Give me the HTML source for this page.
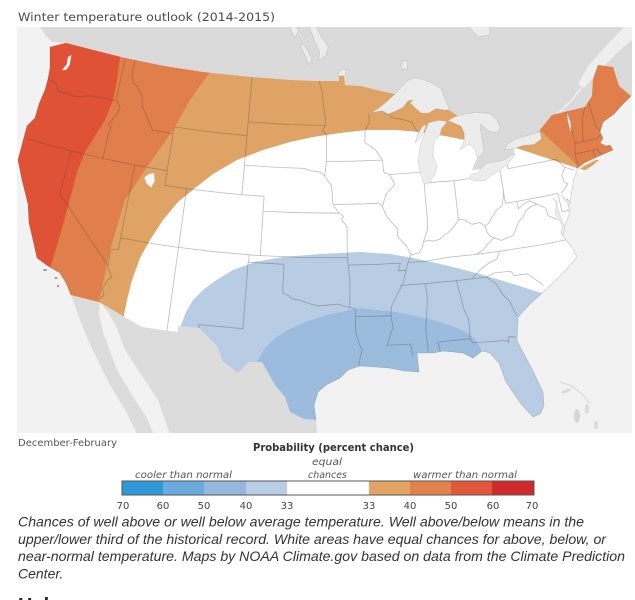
<!DOCTYPE html>
<html><head><meta charset="utf-8"><style>
html,body{margin:0;padding:0;background:#fff;}
svg{display:block;}
</style></head><body>
<svg width="635" height="600" viewBox="0 0 635 600" xmlns="http://www.w3.org/2000/svg">
<defs>
<clipPath id="map"><rect x="17" y="27" width="615" height="406"/></clipPath>
<clipPath id="us"><path d="M50,47 L66,43 L97,51 L125,58 L164,66 L203,72 L252,77 L292,80 L319,81 L339,81 L339,75 L344,76 L345,85 L361,86 L381,91 L395,94 L422,95 L449,110 L471,125 L477,158 L472,170 L494,168 L515,154 L514,149 L528,141 L539,131 L552,115 L585,107 L592,96 L593,79 L598,65 L613,67 L619,86 L631,96 L621,106 L614,114 L603,122 L600,132 L603,138 L600,143 L606,146 L610,145 L613,150 L606,153 L599,156 L584,163 L578,168 L574,178 L572,190 L570,203 L567,198 L568,205 L570,212 L565,226 L562,231 L563,236 L566,240 L572,247 L577,257 L567,269 L552,284 L530,304 L518,317 L517,341 L532,369 L543,392 L544,406 L540,414 L533,417 L521,404 L506,382 L499,363 L490,353 L482,351 L473,358 L463,353 L443,351 L433,353 L417,353 L419,372 L405,371 L389,368 L376,367 L360,366 L348,370 L340,378 L326,385 L318,392 L314,405 L316,420 L304,419 L290,412 L285,397 L275,385 L262,362 L249,362 L238,373 L222,361 L217,346 L199,328 L178,326 L178,332 L142,327 L99,302 L71,295 L66,283 L60,273 L48,266 L37,258 L33,240 L29,223 L28,204 L22,180 L18,160 L23,141 L27,126 L35,118 L39,104 L45,90 L48,79 L50,68 Z M577,171 L584,166 L596,160 L599,160 L592,166 L581,173 Z"/></clipPath>
</defs>
<rect width="635" height="600" fill="#fff"/>
<text x="18" y="21" font-family="DejaVu Sans, Liberation Sans, sans-serif" font-size="11.5" fill="#4a4a4a" textLength="257" lengthAdjust="spacingAndGlyphs">Winter temperature outlook (2014-2015)</text>

<rect x="17" y="27" width="615" height="406" fill="#f2f2f2"/>
<g clip-path="url(#map)">
  <!-- Canada -->
  <path fill="#dadada" d="M40,27 L640,27 L640,96 L631,96 L619,86 L613,67 L598,65 L593,79 L592,96 L585,107 L552,115 L539,131 L528,141 L514,149 L515,154 L494,168 L472,170 L477,158 L471,125 L449,110 L422,95 L395,94 L381,91 L361,86 L345,85 L344,76 L339,75 L339,81 L319,81 L292,80 L252,77 L203,72 L164,66 L125,58 L97,51 L66,43 L52,42 L45,35 Z"/>
  <!-- St Lawrence estuary -->
  <path fill="#efefef" d="M578,84 L588,66 L606,46 L624,27 L640,27 L640,33 L618,52 L598,72 L584,88 Z"/>
  <polyline fill="none" stroke="#efefef" stroke-width="1.6" points="539,131 548,121 560,112 572,100 581,88"/>
  <!-- Mexico mainland -->
  <path fill="#dcdcdc" d="M100,302 L142,327 L178,332 L178,326 L199,328 L217,346 L222,361 L238,373 L249,362 L262,362 L275,385 L285,397 L290,412 L304,419 L316,420 L318,440 L172,440 L158,400 L140,373 L124,348 L117,328 L108,312 Z"/>
  <!-- Baja -->
  <path fill="#dcdcdc" d="M71,295 L100,302 L99,315 L104,335 L117,370 L135,400 L147,418 L156,440 L140,440 L127,413 L110,385 L100,365 L88,340 L80,320 Z"/>
  <!-- Bahamas / islands -->
  <ellipse cx="566" cy="391" rx="5" ry="1.6" fill="#dadada" transform="rotate(-20 566 391)"/>
  <ellipse cx="577" cy="416" rx="3" ry="7" fill="#d6d6d6"/>
  <ellipse cx="587" cy="409" rx="2" ry="5" fill="#dadada"/>
  <ellipse cx="596" cy="425" rx="2" ry="4" fill="#dadada"/>
  <polyline fill="none" stroke="#d8d8d8" stroke-width="1" points="560,382 572,386 584,396 590,404"/>
  <ellipse cx="45" cy="270" rx="2" ry="1" fill="#999"/>
  <ellipse cx="56" cy="278" rx="1.5" ry="1" fill="#999"/>
  <ellipse cx="58" cy="286" rx="1" ry="1.4" fill="#999"/>

  <!-- US land -->
  <path fill="#ffffff" d="M50,47 L66,43 L97,51 L125,58 L164,66 L203,72 L252,77 L292,80 L319,81 L339,81 L339,75 L344,76 L345,85 L361,86 L381,91 L395,94 L422,95 L449,110 L471,125 L477,158 L472,170 L494,168 L515,154 L514,149 L528,141 L539,131 L552,115 L585,107 L592,96 L593,79 L598,65 L613,67 L619,86 L631,96 L621,106 L614,114 L603,122 L600,132 L603,138 L600,143 L606,146 L610,145 L613,150 L606,153 L599,156 L584,163 L578,168 L574,178 L572,190 L570,203 L567,198 L568,205 L570,212 L565,226 L562,231 L563,236 L566,240 L572,247 L577,257 L567,269 L552,284 L530,304 L518,317 L517,341 L532,369 L543,392 L544,406 L540,414 L533,417 L521,404 L506,382 L499,363 L490,353 L482,351 L473,358 L463,353 L443,351 L433,353 L417,353 L419,372 L405,371 L389,368 L376,367 L360,366 L348,370 L340,378 L326,385 L318,392 L314,405 L316,420 L304,419 L290,412 L285,397 L275,385 L262,362 L249,362 L238,373 L222,361 L217,346 L199,328 L178,326 L178,332 L142,327 L99,302 L71,295 L66,283 L60,273 L48,266 L37,258 L33,240 L29,223 L28,204 L22,180 L18,160 L23,141 L27,126 L35,118 L39,104 L45,90 L48,79 L50,68 Z M577,171 L584,166 L596,160 L599,160 L592,166 L581,173 Z"/>

  <g clip-path="url(#us)">
    <!-- warm bands -->
    <path fill="#dfa366" d="M0,0 L495,0 L495,147 L470,141 L445,136 L420,132 L395,130 L367,130 L340,133 L313,137 L290,142 L263,150 L237,160 L213,174 L195,188 L178,202 L163,220 L150,240 L140,258 L132,280 L127,300 L124,315 L120,345 L0,345 Z"/>
    <path fill="#e07e4c" d="M0,0 L215,0 L210,72 L190,100 L173,130 L147,167 L125,200 L110,250 L100,297 L95,330 L0,330 Z"/>
    <path fill="#df5236" d="M0,0 L122,0 L120,57 L117,80 L113,100 L105,120 L95,136 L85,152 L77,172 L71,195 L63,225 L52,262 L40,300 L0,300 Z"/>
    <path fill="#dfa366" d="M495,0 L640,0 L640,178 L600,174 L580,169 L513,147 L498,142 Z"/>
    <path fill="#e07e4c" d="M525,0 L640,0 L640,155 L612,155 L600,158 L590,163 L580,168 L540,130 L525,117 Z"/>
    <!-- cool bands -->
    <path fill="#b8cce4" d="M180,328 L186,312 L193,300 L203,290 L215,281 L233,270 L255,262 L283,257 L320,254 L360,252 L390,254 L413,258 L445,265 L480,274 L510,283 L538,292 L560,296 L640,300 L640,440 L170,440 Z"/>
    <path fill="#9bbcdd" d="M257,362 L265,348 L275,338 L286,331 L305,322 L327,315 L359,308 L396,312 L433,320 L455,327 L469,334 L476,340 L481,350 L483,440 L240,440 L245,380 Z"/>
    <!-- state lines -->
    <path id="states" fill="none" stroke="rgba(70,70,70,0.36)" stroke-width="0.8" stroke-linejoin="round" d=""/>
  </g>
  <!-- coast outline -->
  <path fill="none" stroke="rgba(80,80,80,0.3)" stroke-width="0.6" d="M50,47 L50,68 L48,79 L45,90 L39,104 L35,118 L27,126 L23,141 L18,160 L22,180 L28,204 L29,223 L33,240 L37,258 L48,266 L60,273 L66,283 L71,295 M316,420 L314,405 L318,392 L326,385 L340,378 L348,370 L360,366 L376,367 L389,368 L405,371 L419,372 L417,353 L433,353 L443,351 L463,353 L473,358 L482,351 L490,353 L499,363 L506,382 L521,404 L533,417 L540,414 L544,406 L543,392 L532,369 L517,341 L518,317 L530,304 L552,284 L567,269 L577,257 L572,247 L566,240 L563,236 L562,231 L565,226 L570,212 L568,205 L567,198 L570,203 L572,190 L574,178 L578,168 L584,163 L599,156 L606,153 L613,150 L610,145 L606,146 L600,143 L603,138 L600,132 L603,122 L614,114 L621,106 L631,96"/>
  <!-- lakes -->
  <path id="lakes" fill="#ececec" stroke="rgba(120,120,120,0.35)" stroke-width="0.5" d=""/>
  <path id="lakes2" fill="#f6f6f6" stroke="rgba(120,120,120,0.3)" stroke-width="0.4" d=""/>
</g>

<!-- Legend -->
<text x="18" y="446" font-family="DejaVu Sans, Liberation Sans, sans-serif" font-size="10" fill="#555" textLength="99" lengthAdjust="spacingAndGlyphs">December-February</text>
<text x="253" y="451" font-family="DejaVu Sans, Liberation Sans, sans-serif" font-size="10.5" font-weight="bold" fill="#333" textLength="161" lengthAdjust="spacingAndGlyphs">Probability (percent chance)</text>
<text x="312" y="465" font-family="DejaVu Sans, Liberation Sans, sans-serif" font-size="10" font-style="italic" fill="#555" textLength="30" lengthAdjust="spacingAndGlyphs">equal</text>
<text x="308" y="478" font-family="DejaVu Sans, Liberation Sans, sans-serif" font-size="10" font-style="italic" fill="#555" textLength="39" lengthAdjust="spacingAndGlyphs">chances</text>
<text x="135" y="478" font-family="DejaVu Sans, Liberation Sans, sans-serif" font-size="10" font-style="italic" fill="#555" textLength="97" lengthAdjust="spacingAndGlyphs">cooler than normal</text>
<text x="413" y="478" font-family="DejaVu Sans, Liberation Sans, sans-serif" font-size="10" font-style="italic" fill="#555" textLength="104" lengthAdjust="spacingAndGlyphs">warmer than normal</text>

<g>
  <rect x="122" y="481" width="41" height="14" fill="#2e97d7"/>
  <rect x="163" y="481" width="41" height="14" fill="#6aabdf"/>
  <rect x="204" y="481" width="42" height="14" fill="#95b7db"/>
  <rect x="246" y="481" width="41" height="14" fill="#b8cce6"/>
  <rect x="287" y="481" width="82" height="14" fill="#ffffff"/>
  <rect x="369" y="481" width="41" height="14" fill="#e2a465"/>
  <rect x="410" y="481" width="41" height="14" fill="#e2824d"/>
  <rect x="451" y="481" width="41" height="14" fill="#e0573a"/>
  <rect x="492" y="481" width="42" height="14" fill="#d02b2c"/>
  <rect x="122" y="481" width="412" height="14" fill="none" stroke="#555" stroke-width="1"/>
</g>
<g font-family="DejaVu Sans, Liberation Sans, sans-serif" font-size="10" fill="#444" text-anchor="middle">
  <text x="123" y="509">70</text>
  <text x="163" y="509">60</text>
  <text x="204" y="509">50</text>
  <text x="246" y="509">40</text>
  <text x="287" y="509">33</text>
  <text x="369" y="509">33</text>
  <text x="410" y="509">40</text>
  <text x="451" y="509">50</text>
  <text x="493" y="509">60</text>
  <text x="532" y="509">70</text>
</g>

<!-- Caption -->
<g font-family="Liberation Sans, Arial, sans-serif" font-size="14" font-style="italic" fill="#333">
  <text x="18" y="526.5" textLength="566" lengthAdjust="spacingAndGlyphs">Chances of well above or well below average temperature. Well above/below means in the</text>
  <text x="18" y="543.8" textLength="588" lengthAdjust="spacingAndGlyphs">upper/lower third of the historical record. White areas have equal chances for above, below, or</text>
  <text x="18" y="561" textLength="607" lengthAdjust="spacingAndGlyphs">near-normal temperature. Maps by NOAA Climate.gov based on data from the Climate Prediction</text>
  <text x="18" y="578.3">Center.</text>
</g>
<text x="18" y="612" font-family="Liberation Sans, Arial, sans-serif" font-size="20" font-weight="bold" fill="#222">Help</text>
</svg>

<script>
(function(){
var n=0.60285,C=1.35124,r0=1.30325,dg=Math.PI/180;
function P(p){var rho=Math.sqrt(C-2*n*Math.sin(p[1]*dg))/n;var th=n*(p[0]+96)*dg;
return (331.2+850*rho*Math.sin(th)).toFixed(1)+','+(250.4-843*(r0-rho*Math.cos(th))).toFixed(1);}
function path(a,close){var s='';for(var i=0;i<a.length;i++){s+=(i?'L':'M')+P(a[i]);}return s+(close?'Z':'');}
var S=[
[[-124.05,46.27],[-123.2,46.17],[-122.8,45.9],[-122.75,45.65],[-121.8,45.7],[-121.2,45.6],[-120.5,45.7],[-119.6,45.92],[-119.0,45.98],[-116.92,46.0]],
[[-117.04,49.0],[-117.04,46.43],[-116.92,46.0]],
[[-116.92,46.0],[-116.48,45.6],[-116.7,45.1],[-117.2,44.3],[-116.9,44.15],[-117.03,43.8],[-117.03,42.0]],
[[-124.21,42.0],[-122,42],[-120,42],[-117.03,42.0],[-114.05,42],[-111.05,42.0]],
[[-120.0,42.0],[-120.0,39.0],[-117.5,37.2],[-114.63,35.0],[-114.57,34.8],[-114.13,34.27],[-114.43,34.08],[-114.72,33.4],[-114.5,33.0],[-114.72,32.72]],
[[-114.05,42.0],[-114.05,37.0]],
[[-114.05,37.0],[-114.05,36.2],[-114.7,36.1],[-114.63,35.0]],
[[-114.05,37.0],[-111,37],[-109.05,37.0],[-106,37],[-103.0,37.0],[-102.04,37],[-98,37],[-94.62,37.0]],
[[-109.05,37.0],[-109.05,31.33]],
[[-109.05,41.0],[-109.05,37.0]],
[[-111.05,42.0],[-111.05,41.0],[-109.05,41.0]],
[[-109.05,41.0],[-106,41],[-104.05,41.0],[-102.05,41.0]],
[[-116.05,49.0],[-116.05,47.98],[-115.7,47.45],[-115.3,47.25],[-114.6,46.65],[-114.45,46.0],[-114.0,45.6],[-113.5,45.05],[-113.0,44.5],[-112.3,44.55],[-111.5,44.55],[-111.05,44.5]],
[[-111.05,45.0],[-111.05,42.0]],
[[-111.05,45.0],[-108,45],[-104.05,45.0]],
[[-104.05,49.0],[-104.05,45.0]],
[[-104.05,45.0],[-104.05,41.0]],
[[-104.05,45.94],[-100,45.94],[-96.56,45.94]],
[[-104.05,43.0],[-101,43],[-98.5,43.0],[-97.9,42.85],[-97.0,42.77],[-96.6,42.5]],
[[-97.23,49.0],[-96.9,48.2],[-96.8,47.5],[-96.6,46.5],[-96.56,45.94],[-96.85,45.6],[-96.45,45.3],[-96.45,43.5]],
[[-96.45,43.5],[-96.6,42.5]],
[[-96.45,43.5],[-94,43.5],[-91.22,43.5]],
[[-102.05,41.0],[-102.05,40.0]],
[[-102.05,40.0],[-99,40],[-95.31,40.0]],
[[-96.6,42.5],[-96.3,42.2],[-96.0,41.9],[-95.9,41.3],[-95.85,40.6],[-95.31,40.0]],
[[-102.05,40.0],[-102.05,37.0]],
[[-94.62,37.0],[-94.61,39.1],[-95.1,39.6],[-94.9,39.8],[-95.31,40.0]],
[[-95.77,40.58],[-93,40.6],[-91.73,40.61],[-91.42,40.38]],
[[-103.0,37.0],[-103.0,36.5]],
[[-103.04,36.5],[-100.0,36.5]],
[[-100.0,36.5],[-100.0,34.56],[-99.5,34.4],[-99.2,34.2],[-98.5,34.1],[-97.8,33.9],[-97.1,33.75],[-96.5,33.8],[-95.5,33.88],[-94.48,33.64]],
[[-103.04,36.5],[-103.06,32.0],[-106.62,32.0],[-106.53,31.78]],
[[-94.62,37.0],[-94.43,35.4],[-94.48,33.64]],
[[-94.48,33.64],[-94.04,33.55],[-94.04,33.02],[-94.04,32.0],[-93.8,31.2],[-93.55,30.8],[-93.72,30.3],[-93.84,29.7]],
[[-94.62,36.5],[-92,36.5],[-90.15,36.5],[-90.37,36.0],[-89.7,36.0]],
[[-94.04,33.02],[-92,33.0],[-91.17,33.0]],
[[-91.22,43.5],[-91.15,42.7],[-90.65,42.5],[-90.2,41.8],[-91.05,41.2],[-91.42,40.38],[-91.2,39.85],[-90.7,39.3],[-90.18,38.8],[-90.25,38.3],[-89.5,37.6],[-89.18,37.0],[-89.5,36.5],[-89.7,36.0],[-90.05,35.1],[-90.5,34.5],[-91.1,33.6],[-91.17,33.0],[-91.05,32.2],[-91.6,31.0]],
[[-91.6,31.0],[-89.73,31.0],[-89.6,30.2]],
[[-91.22,43.5],[-91.8,44.2],[-92.8,44.75],[-92.75,45.55],[-92.3,46.1],[-92.3,46.66]],
[[-90.64,42.5],[-87.8,42.5]],
[[-90.42,46.57],[-90.1,46.35],[-89.0,46.15],[-88.2,45.95],[-87.8,45.35],[-87.6,45.1]],
[[-87.53,41.7],[-87.53,39.35],[-87.6,38.6],[-87.95,38.0],[-88.05,37.8]],
[[-88.05,37.8],[-88.15,37.5],[-88.5,37.1],[-89.18,37.0]],
[[-87.2,41.76],[-84.8,41.7],[-83.45,41.73]],
[[-84.8,41.7],[-84.82,39.1]],
[[-84.82,39.1],[-85.2,38.7],[-85.8,38.3],[-86.3,38.1],[-86.6,37.9],[-87.2,37.8],[-87.6,37.9],[-88.05,37.8]],
[[-84.82,39.1],[-84.3,39.0],[-83.7,38.65],[-83.0,38.7],[-82.6,38.4],[-82.2,38.6],[-81.8,39.0],[-81.4,39.35],[-80.85,39.6],[-80.6,40.2],[-80.52,40.64]],
[[-80.52,40.64],[-80.52,41.98]],
[[-89.5,36.5],[-88.05,36.5],[-86,36.63],[-83.68,36.6]],
[[-82.6,38.4],[-82.5,38.0],[-82.3,37.7],[-81.97,37.54],[-82.5,37.25],[-83.0,36.85],[-83.68,36.6]],
[[-83.68,36.6],[-81.68,36.59]],
[[-81.68,36.59],[-82.0,36.1],[-82.6,35.97],[-83.5,35.55],[-84.3,35.0]],
[[-90.3,35.0],[-88.2,35.0],[-85.6,35.0],[-84.3,35.0],[-83.1,35.0]],
[[-88.2,35.0],[-88.1,34.0],[-88.45,31.9],[-88.4,30.4]],
[[-85.6,35.0],[-85.2,32.9],[-84.95,32.3],[-85.0,31.0]],
[[-87.6,31.0],[-85.0,31.0]],
[[-87.6,31.0],[-87.45,30.35]],
[[-85.0,31.0],[-84.86,30.7],[-82.2,30.57],[-82.05,30.4],[-82.0,30.8],[-81.45,30.72]],
[[-83.1,35.0],[-82.4,34.5],[-81.9,33.6],[-81.5,33.2],[-81.1,32.1]],
[[-83.1,35.0],[-82.4,35.2],[-81.0,35.15],[-80.9,35.0],[-80.8,34.82],[-79.7,34.8],[-78.55,33.86]],
[[-81.68,36.59],[-78,36.55],[-75.87,36.55]],
[[-81.97,37.54],[-81.4,37.3],[-80.85,37.4],[-80.3,37.5],[-80.0,37.9],[-79.6,38.4],[-79.2,38.6],[-78.85,39.0],[-78.4,39.2],[-77.8,39.3]],
[[-77.8,39.3],[-78.4,39.6],[-79.0,39.45],[-79.48,39.2],[-79.48,39.72]],
[[-79.48,39.72],[-80.52,39.72],[-80.52,40.64]],
[[-79.48,39.72],[-77,39.72],[-75.79,39.72]],
[[-75.79,39.72],[-75.79,38.46],[-75.05,38.46]],
[[-77.8,39.3],[-77.1,38.9],[-77.05,38.4],[-76.3,38.0]],
[[-79.76,42.27],[-79.76,42.0],[-77,42],[-75.35,42.0],[-75.1,41.8],[-74.7,41.35]],
[[-74.7,41.35],[-73.9,41.0]],
[[-74.7,41.35],[-75.1,40.85],[-75.05,40.4],[-74.75,40.2],[-75.1,39.95],[-75.5,39.7]],
[[-73.35,45.01],[-73.35,44.0],[-73.25,43.57],[-73.27,42.75],[-73.5,42.05],[-73.5,41.3],[-73.7,41.1]],
[[-73.5,42.05],[-71.8,42.02],[-71.38,42.02],[-71.38,41.9],[-71.12,41.5]],
[[-71.8,42.02],[-71.85,41.32]],
[[-73.27,42.75],[-72.46,42.73],[-71.3,42.7],[-70.8,42.87]],
[[-72.46,42.73],[-72.4,43.2],[-72.2,43.7],[-72.05,44.3],[-71.5,44.95],[-71.5,45.01]],
[[-70.7,43.08],[-70.98,43.5],[-71.08,45.3]]
];
var L=[
[[-92.1,46.75],[-91.4,47.0],[-90.6,47.4],[-89.6,47.95],[-88.9,48.4],[-88.3,48.8],[-87.5,48.95],[-86.6,48.75],[-85.9,48.5],[-85.0,48.0],[-84.8,47.5],[-84.6,46.95],[-84.4,46.5],[-85.0,46.55],[-85.7,46.7],[-86.5,46.45],[-87.2,46.5],[-87.7,46.85],[-88.2,47.25],[-87.9,47.45],[-88.4,47.4],[-88.9,47.0],[-89.6,46.8],[-90.4,46.6],[-91.0,46.85]],
[[-87.8,42.4],[-87.9,43.1],[-87.7,44.0],[-87.4,44.6],[-87.0,45.2],[-86.6,45.8],[-85.6,45.9],[-85.0,45.8],[-84.8,45.7],[-85.4,45.3],[-85.6,44.9],[-86.2,44.5],[-86.5,43.6],[-86.2,42.8],[-86.5,42.2],[-87.2,41.65],[-87.6,41.75]],
[[-88.0,44.5],[-87.5,44.85],[-87.0,45.35],[-86.8,45.7],[-87.2,45.6],[-87.7,45.1],[-88.0,44.6]],
[[-84.7,45.8],[-84.0,46.0],[-83.0,46.1],[-82.0,46.1],[-81.2,46.0],[-80.6,45.9],[-80.0,45.3],[-79.8,44.8],[-80.2,44.5],[-80.9,44.7],[-81.3,45.0],[-81.6,45.25],[-81.7,44.9],[-81.7,44.0],[-81.7,43.4],[-82.4,43.0],[-82.5,43.6],[-82.9,44.0],[-83.3,43.95],[-83.9,43.7],[-83.4,44.3],[-83.3,44.8],[-83.5,45.3],[-84.2,45.6]],
[[-83.45,41.73],[-82.8,41.5],[-82.0,41.45],[-81.3,41.75],[-80.5,42.0],[-79.8,42.25],[-78.9,42.85],[-79.3,42.85],[-80.1,42.6],[-80.8,42.6],[-81.6,42.6],[-82.2,42.3],[-82.6,42.0],[-83.1,42.0]],
[[-79.8,43.3],[-79.0,43.25],[-78.0,43.35],[-77.0,43.28],[-76.2,43.55],[-76.2,44.05],[-76.8,44.0],[-77.5,43.95],[-78.5,43.9],[-79.4,43.65]],
[[-95.3,49.3],[-94.6,49.35],[-94.4,49.7],[-94.8,49.8],[-95.2,49.6]],
[[-88.8,49.6],[-88.2,49.6],[-88.1,50.1],[-88.6,50.2]],
[[-97.3,50.4],[-96.6,50.7],[-96.3,51.3],[-97.0,52.0],[-97.8,52.9],[-98.5,53.9],[-99.2,53.7],[-98.4,52.8],[-97.8,51.8],[-97.2,51.0]],
[[-98.3,50.1],[-98.0,50.5],[-98.8,51.4],[-99.3,51.5],[-98.8,50.8]],
[[-99.8,51.9],[-99.5,52.5],[-100.2,53.0],[-100.4,52.5]],
[[-80.5,51.2],[-79.3,51.2],[-78.8,52.5],[-79.5,54.5],[-82,54.5],[-81.8,52.5]],
[[-73.35,43.6],[-73.2,44.2],[-73.3,45.0],[-73.42,44.4],[-73.42,43.6]],
[[-76.3,39.5],[-76.0,39.2],[-76.4,38.5],[-76.0,37.5],[-76.3,37.0],[-76.1,36.95],[-75.85,37.3],[-76.0,38.2],[-76.1,38.9]],
[[-75.55,39.6],[-75.0,39.0],[-74.9,38.95],[-75.1,38.8],[-75.4,39.2]]
];
var L2=[
[[-112.2,41.7],[-112.0,41.2],[-112.2,40.7],[-112.7,40.9],[-113.0,41.3],[-112.6,41.6]],
[[-122.4,48.3],[-122.3,47.6],[-122.5,47.2],[-122.9,47.1],[-122.6,47.6],[-122.7,48.1]]
];
try{
var s='';for(var i=0;i<S.length;i++)s+=path(S[i],false);
document.getElementById('states').setAttribute('d',s);
var l='';for(var j=0;j<L.length;j++)l+=path(L[j],true);
document.getElementById('lakes').setAttribute('d',l);
var l2='';for(var k=0;k<L2.length;k++)l2+=path(L2[k],true);
document.getElementById('lakes2').setAttribute('d',l2);
}catch(e){}
})();
</script>
</body></html>
